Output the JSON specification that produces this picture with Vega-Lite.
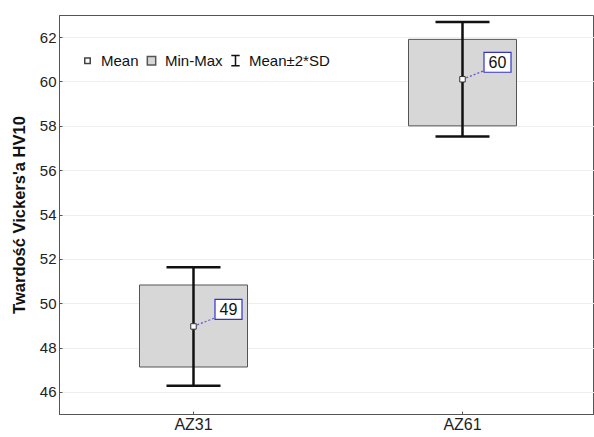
{
  "$schema": "https://vega.github.io/schema/vega-lite/v6.json",
  "width": 534,
  "height": 399,
  "autosize": "none",
  "padding": {"left": 59, "top": 15, "right": 1, "bottom": 23},
  "background": "white",
  "config": {
    "font": "Liberation Sans",
    "view": {"stroke": "#555", "strokeWidth": 1},
    "axis": {"domainColor": "#555", "tickColor": "#555", "labelColor": "#222", "labelFont": "Liberation Sans", "titleFont": "Liberation Sans"}
  },
  "datasets": {
    "stats": [
      {"g": "AZ31", "mean": 48.95, "min": 47.12, "max": 50.82, "lo": 46.28, "hi": 51.62, "lab": "49"},
      {"g": "AZ61", "mean": 60.1, "min": 58.0, "max": 61.9, "lo": 57.52, "hi": 62.68, "lab": "60"}
    ],
    "legend": [
      {"item": "Mean"},
      {"item": "Min-Max"},
      {"item": "Mean±2*SD"}
    ]
  },
  "data": {"name": "stats"},
  "encoding": {
    "x": {"field": "g", "type": "nominal", "scale": {"type": "band", "paddingInner": 0, "paddingOuter": 0, "range": [0, 538]}, "axis": {"title": null, "labelAngle": 0, "labelFontSize": 16, "labelPadding": 5, "tickSize": -3, "grid": false}}
  },
  "layer": [
    {
      "mark": {"type": "bar", "size": 108, "fill": "#d7d7d7", "stroke": "#555", "strokeWidth": 1},
      "encoding": {
        "y": {"field": "min", "type": "quantitative", "scale": {"domain": [45, 63], "nice": false, "zero": false}, "axis": {"values": [46, 48, 50, 52, 54, 56, 58, 60, 62], "title": "Twardość Vickers'a HV10", "titleFontSize": 16.5, "titleFontWeight": "bold", "titleColor": "#111", "titlePadding": 12, "labelFontSize": 15, "labelPadding": 6, "tickSize": -3, "gridColor": "#eeeeee", "gridWidth": 1}},
        "y2": {"field": "max"}
      }
    },
    {
      "mark": {"type": "rule", "stroke": "#111", "strokeWidth": 2.5},
      "encoding": {"y": {"field": "lo", "type": "quantitative"}, "y2": {"field": "hi"}}
    },
    {
      "mark": {"type": "tick", "size": 54, "thickness": 2.5, "color": "#111", "opacity": 1},
      "encoding": {"y": {"field": "lo", "type": "quantitative"}}
    },
    {
      "mark": {"type": "tick", "size": 54, "thickness": 2.5, "color": "#111", "opacity": 1},
      "encoding": {"y": {"field": "hi", "type": "quantitative"}}
    },
    {
      "mark": {"type": "point", "shape": "M0,0L1,-0.4", "size": 1936, "filled": false, "stroke": "#6655cc", "strokeWidth": 1.3, "strokeDash": [2, 2], "opacity": 1},
      "encoding": {"y": {"field": "mean", "type": "quantitative"}}
    },
    {
      "mark": {"type": "point", "shape": "square", "size": 30, "filled": true, "fill": "white", "stroke": "#333", "strokeWidth": 1, "opacity": 1},
      "encoding": {"y": {"field": "mean", "type": "quantitative"}}
    },
    {
      "mark": {"type": "point", "shape": "M-1,-0.74H1V0.74H-1Z", "size": 729, "filled": true, "fill": "white", "stroke": "#3333cc", "strokeWidth": 1.2, "opacity": 1, "xOffset": 35, "yOffset": -17},
      "encoding": {"y": {"field": "mean", "type": "quantitative"}}
    },
    {
      "mark": {"type": "text", "fontSize": 16, "color": "#111", "align": "center", "baseline": "middle", "dx": 35, "dy": -16},
      "encoding": {"y": {"field": "mean", "type": "quantitative"}, "text": {"field": "lab"}}
    },
    {
      "data": {"name": "legend"},
      "mark": {"type": "point", "clip": true, "strokeWidth": 1.5, "opacity": 1},
      "encoding": {
        "x": {"datum": "AZ31"},
        "y": {"datum": 30},
        "shape": {"field": "item", "type": "nominal", "scale": {"domain": ["Mean", "Min-Max", "Mean±2*SD"], "range": ["square", "square", "M-0.8,-1H0.8M0,-1V1M-0.8,1H0.8"]}, "legend": {"orient": "none", "legendX": 21, "legendY": 38, "direction": "horizontal", "title": null, "labelFontSize": 15, "labelColor": "#111", "labelOffset": 6, "columnPadding": 5, "symbolOpacity": 1}},
        "fill": {"field": "item", "type": "nominal", "scale": {"domain": ["Mean", "Min-Max", "Mean±2*SD"], "range": ["white", "#d7d7d7", "transparent"]}},
        "stroke": {"field": "item", "type": "nominal", "scale": {"domain": ["Mean", "Min-Max", "Mean±2*SD"], "range": ["#444", "#555", "#111"]}},
        "size": {"field": "item", "type": "nominal", "scale": {"domain": ["Mean", "Min-Max", "Mean±2*SD"], "range": [30, 110, 150]}}
      }
    }
  ]
}
